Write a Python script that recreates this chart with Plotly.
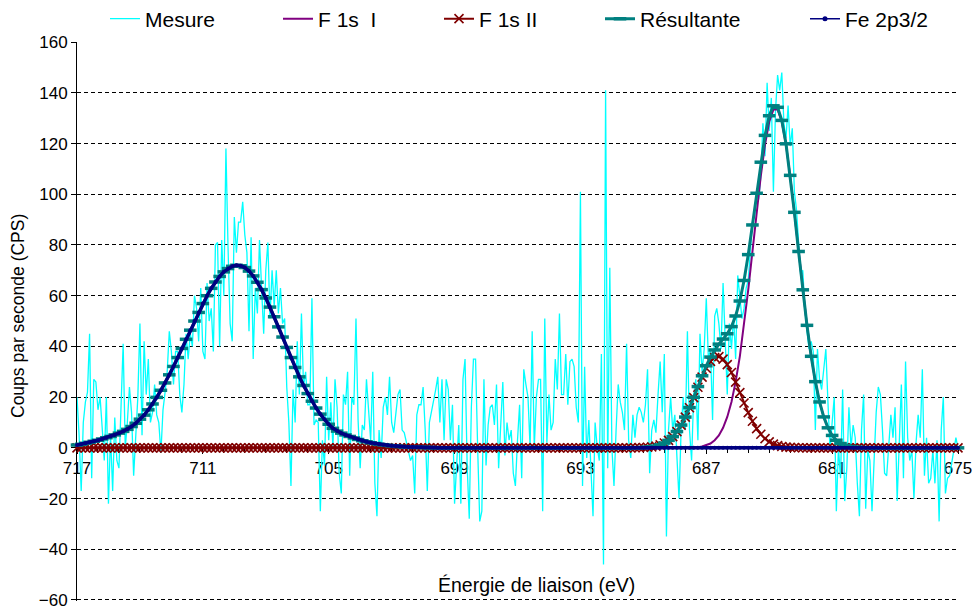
import numpy as np
import plotly.graph_objects as go

# ---------------- data ----------------
# Energy grid of the measurement (eV, 0.1 eV step, 717 -> 675)
E_MES = np.round(np.arange(717.0, 674.95, -0.1), 1)

# Measured counts per second, one row per eV (x.0, x-0.1, ... x-0.9)
MESURE = [
    20, 5, -17, 10, 18, 22, 45, -12, 27, 26,        # 717.0
    15, 20, 8, -5, 20, -22, 5, -17, 12, -5,         # 716.0
    -8, 15, 41, 0, 10, 24, 14, -11, 5, 20,          # 715.0
    49, 5, 42, 21, 35, 10, 14, 25, 13, 10,          # 714.0
    -2, 15, 22, 30, 46, 38, 25, 38, 38, 21,         # 713.0
    14, 25, 45, 35, 45, 40, 60, 55, 42, 63,         # 712.0
    38, 35, 65, 50, 55, 38, 80, 81, 40, 82,         # 711.0
    60, 118, 79, 49, 42, 91, 77, 89, 89, 97,        # 710.0
    84, 77, 46, 83, 35, 63, 53, 82, 63, 45,         # 709.0
    70, 81, 51, 70, 56, 70, 53, 63, 49, 51,         # 708.0
    24, 10, -15, 23, 10, 42, 21, 53, 24, 30,        # 707.0
    17, 17, 59, 9, 11, 10, -25, 3, -7, 28,          # 706.0
    3, 18, 0, 27, 16, -10, -18, 21, 17, 30,         # 705.0
    -11, 20, 17, 51, 11, -8, 9, 7, 27, 14,          # 704.0
    3, 30, -14, -27, 7, -4, 16, 20, 13, 28,         # 703.0
    10, 6, 13, 21, 23, 7, 6, 2, -1, -5,             # 702.0
    -3, -18, 13, 17, 17, 24, 7, -17, 10, 14,        # 701.0
    18, 23, 28, 10, 27, 3, 27, 23, 3, 17,           # 700.0
    -22, -7, 9, -22, 27, 35, -7, -28, 16, 35,       # 699.0
    35, 0, -29, -25, 27, -7, 9, 16, 17, 9,          # 698.0
    25, -8, 7, 26, -3, 10, 3, 7, -10, -15,          # 697.0
    3, 17, -12, 31, 25, 20, 0, 46, 0, 20,           # 696.0
    27, 27, -25, 51, 2, 21, 7, 10, 35, 23,          # 695.0
    53, 21, 21, 37, 17, 34, 35, 32, 16, 10,         # 694.0
    101, -15, 32, -4, 11, -7, -27, 10, 0, -5,       # 693.0
    37, -46, 141, -8, 71, 0, -15, 7, 25, 18,        # 692.0
    14, 7, 41, 3, -4, 13, 4, 13, 16, 14,            # 691.0
    10, 17, 31, -10, 7, 11, 6, 21, 34, 14,          # 690.0
    37, -35, 7, 20, 7, 13, -7, -20, 7, 20,          # 689.0
    7, 46, 7, -5, 21, 27, 3, 45, 30, 39,            # 688.0
    59, 35, 39, 11, 52, 55, 49, 39, 65, 45,         # 687.0
    21, 49, 39, 52, 35, 68, 58, 51, 55, 63,         # 686.0
    66, 80, 89, 91, 100, 98, 107, 128, 115, 144,    # 685.0
    125, 138, 101, 133, 147, 141, 148, 128, 122, 135,  # 684.0
    119, 126, 101, 94, 80, 68, 70, 55, 46, 39,      # 683.0
    42, 38, 7, 39, 27, 23, 31, 39, 18, -1,          # 682.0
    10, 20, -25, 0, -12, 23, -21, -8, 16, 0,        # 681.0
    9, 4, -14, -27, 7, 21, -24, -1, -5, -25,        # 680.0
    -5, 14, 24, 21, 7, -10, -11, 3, 13, 4,          # 679.0
    16, -21, 7, 25, -12, 34, 4, -5, -1, -20,        # 678.0
    2, 13, 4, 31, -11, 4, -14, -12, -1, -14,        # 677.0
    3, -29, 7, 20, -18, -12, -11, -5, -1, 4,        # 676.0
    0,                                              # 675.0
]

# Energy grid of the fitted components (0.2 eV step, 717 -> 675)
E_FIT = np.round(np.arange(717.0, 674.9, -0.2), 1)

# Fe 2p3/2 component, rows of 1 eV (x.0, x-0.2, ... x-0.8)
FE_2P32 = [
    1.1, 1.4, 1.8, 2.2, 2.6,        # 717.0
    3.0, 3.5, 4.0, 4.5, 5.1,        # 716.0
    5.8, 6.5, 7.3, 8.4, 9.7,        # 715.0
    11.3, 12.9, 15.0, 17.3, 19.9,   # 714.0
    22.7, 25.6, 28.8, 32.1, 35.6,   # 713.0
    39.2, 42.8, 46.4, 50.0, 53.4,   # 712.0
    56.9, 60.0, 62.9, 65.4, 67.6,   # 711.0
    69.4, 70.7, 71.6, 72.0, 71.8,   # 710.0
    71.1, 69.7, 67.8, 65.3, 62.4,   # 709.0
    59.1, 55.5, 51.7, 47.7, 43.7,   # 708.0
    39.6, 35.6, 31.7, 28.0, 24.6,   # 707.0
    21.4, 18.4, 15.7, 13.3, 11.2,   # 706.0
    9.3, 7.7, 6.6, 5.8, 5.1,        # 705.0
    4.5, 3.9, 3.3, 2.8, 2.4,        # 704.0
    2.0, 1.7, 1.4, 1.2, 1.0,        # 703.0
    0.8, 0.7, 0.5, 0.4, 0.3,        # 702.0
    0.3, 0.2, 0.2, 0.1, 0.1,        # 701.0
    0.1, 0.0, 0.0, 0.0, 0.0,        # 700.0
] + [0.0] * 121                     # 699.0 -> 675.0

# F 1s II component, non-zero part from 691.0 to 682.0
F1S_II_PEAK = [
    0.0, 0.01, 0.01, 0.03, 0.06,    # 691.0
    0.12, 0.22, 0.40, 0.70, 1.17,   # 690.0
    1.89, 2.94, 4.43, 6.42, 8.98,   # 689.0
    12.1, 15.8, 19.8, 23.9, 27.9,   # 688.0
    31.4, 34.1, 35.6, 36.0, 35.0,   # 687.0
    32.8, 29.7, 25.9, 21.8, 17.7,   # 686.0
    13.9, 10.5, 7.6, 5.35, 3.62,    # 685.0
    2.37, 1.49, 0.90, 0.53, 0.30,   # 684.0
    0.16, 0.08, 0.04, 0.02, 0.01,   # 683.0
    0.0,                            # 682.0
]
F1S_II = [0.0] * 130 + F1S_II_PEAK + [0.0] * 35

# F 1s I component, non-zero part from 688.0 to 679.2
F1S_I_PEAK = [
    0.03, 0.07, 0.14, 0.27, 0.52,       # 688.0
    0.96, 1.7, 3.0, 4.9, 7.9,           # 687.0
    12.2, 18.1, 26.1, 36.1, 48.3,       # 686.0
    62.3, 77.4, 92.8, 107.3, 119.6,     # 685.0
    128.6, 133.4, 133.4, 128.6, 119.6,  # 684.0
    107.3, 92.8, 77.4, 62.3, 48.3,      # 683.0
    36.1, 26.1, 18.1, 12.2, 7.9,        # 682.0
    4.9, 3.0, 1.7, 0.96, 0.52,          # 681.0
    0.27, 0.14, 0.07, 0.03, 0.0,        # 680.0
]
F1S_I = [0.0] * 145 + F1S_I_PEAK + [0.0] * 21

# Resulting envelope = sum of the three fitted components
RESULTANTE = list(np.round(np.array(FE_2P32) + np.array(F1S_I) + np.array(F1S_II), 2))

NAMES = ["Mesure", "F 1s\u00a0 I", "F 1s II", "R\u00e9sultante", "Fe 2p3/2"]
X_TITLE = "\u00c9nergie de liaison (eV)"
Y_TITLE = "Coups par seconde (CPS)"
Y_TICKS = [-60, -40, -20, 0, 20, 40, 60, 80, 100, 120, 140, 160]
X_TICKS = [717, 711, 705, 699, 693, 687, 681, 675]

FONT = "Liberation Sans, Arial, sans-serif"

# ---------------- figure ----------------
fig = go.Figure()

fig.add_trace(go.Scatter(
    x=E_MES, y=MESURE, mode="lines", name=NAMES[0], legend="legend",
    line=dict(color="#00FFFF", width=1.3)))

fig.add_trace(go.Scatter(
    x=E_FIT, y=F1S_I, mode="lines", name=NAMES[1], legend="legend2",
    line=dict(color="#800080", width=2)))

fig.add_trace(go.Scatter(
    x=E_FIT, y=F1S_II, mode="lines+markers", name=NAMES[2], legend="legend3",
    line=dict(color="#800000", width=2),
    marker=dict(symbol="x-thin", size=9, color="#800000",
                line=dict(color="#800000", width=1.6)),
    cliponaxis=False))

fig.add_trace(go.Scatter(
    x=E_FIT, y=RESULTANTE, mode="lines+markers", name=NAMES[3], legend="legend4",
    line=dict(color="#008080", width=3),
    marker=dict(symbol="line-ew", size=9, color="#008080",
                line=dict(color="#008080", width=3.5)),
    cliponaxis=False))

# Fe 2p3/2 (plotted thick, legend sample drawn thin as in the original)
fig.add_trace(go.Scatter(
    x=E_FIT, y=FE_2P32, mode="lines+markers", name=NAMES[4], showlegend=False,
    line=dict(color="#000080", width=3.5),
    marker=dict(symbol="circle", size=4, color="#000080"),
    cliponaxis=False))
fig.add_trace(go.Scatter(
    x=[None], y=[None], mode="lines+markers", name=NAMES[4], legend="legend5",
    line=dict(color="#000080", width=1.5),
    marker=dict(symbol="circle", size=5, color="#000080")))

L_PLOT, R_PLOT, T_PLOT, B_PLOT = 77, 18, 42, 10
W, H = 976, 611
PW = W - L_PLOT - R_PLOT
PH = H - T_PLOT - B_PLOT

def px_x(px):
    return (px - L_PLOT) / PW

def px_y(py):
    return (H - B_PLOT - py) / PH

leg_common = dict(orientation="h", xanchor="left", yanchor="middle",
                  y=px_y(19), bgcolor="rgba(0,0,0,0)", itemwidth=30,
                  font=dict(family=FONT, size=21, color="#000"))

Y_LO, Y_HI = -60.4, 160.05

fig.update_layout(
    width=W, height=H, autosize=False, showlegend=True,
    margin=dict(l=L_PLOT, r=R_PLOT, t=T_PLOT, b=B_PLOT, pad=0, autoexpand=False),
    paper_bgcolor="white", plot_bgcolor="white",
    font=dict(family=FONT, size=17, color="#000"),
    legend=dict(x=px_x(105), **leg_common),
    legend2=dict(x=px_x(278), **leg_common),
    legend3=dict(x=px_x(439), **leg_common),
    legend4=dict(x=px_x(600), **leg_common),
    legend5=dict(x=px_x(805), **leg_common),
    xaxis=dict(
        range=[717, 675], tickmode="array", tickvals=X_TICKS,
        showgrid=False, zeroline=False,
        showline=True, linecolor="#000", linewidth=1,
        ticks="outside", ticklen=5, tickcolor="#000",
        minor=dict(dtick=1, tick0=675, ticks="outside", ticklen=4,
                   tickcolor="#000", showgrid=False),
        anchor="free", position=(0 - Y_LO) / (Y_HI - Y_LO),
        tickfont=dict(family=FONT, size=17, color="#000"),
        layer="below traces",
    ),
    yaxis=dict(
        range=[Y_LO, Y_HI], tickmode="array", tickvals=Y_TICKS,
        showgrid=True, gridcolor="#000", gridwidth=1, griddash="4px,3px",
        zeroline=False,
        showline=True, linecolor="#000", linewidth=1,
        ticks="outside", ticklen=5, tickcolor="#000",
        tickfont=dict(family=FONT, size=17, color="#000"),
        ticklabeloverflow="allow",
        layer="below traces",
    ),
    annotations=[
        dict(text=X_TITLE, xref="paper", yref="paper",
             x=px_x(536), y=px_y(585), xanchor="center", yanchor="middle",
             showarrow=False, font=dict(family=FONT, size=19.5, color="#000")),
        dict(text=Y_TITLE, xref="paper", yref="paper", textangle=-90,
             x=px_x(18), y=px_y(316), xanchor="center", yanchor="middle",
             showarrow=False, font=dict(family=FONT, size=17.5, color="#000")),
    ],
)

fig.write_html("out.html", config={"displayModeBar": False},
               post_script="document.body.style.margin='0';")
